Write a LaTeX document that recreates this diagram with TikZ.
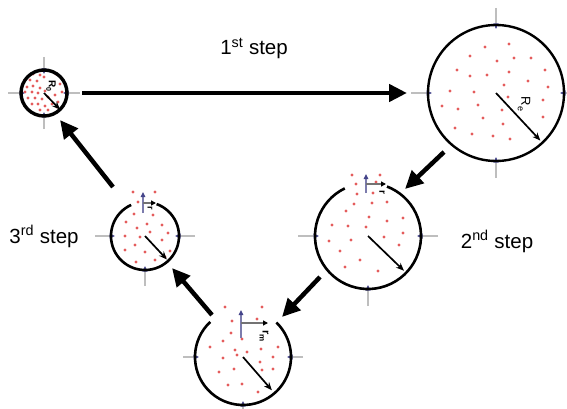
\documentclass[tikz,border=0pt]{standalone}
\usepackage{fontspec}
\setmainfont{Liberation Sans}
\usetikzlibrary{arrows.meta}

\definecolor{dotred}{RGB}{228,92,92}
\definecolor{markblue}{RGB}{68,68,138}
\definecolor{axisgray}{RGB}{190,190,190}

\tikzset{
	ring/.style={draw, line width=2.6pt},
	reddot/.style={fill=dotred},
	axis/.style={draw=axisgray, line width=1.1pt, -{Triangle[length=5.5pt,width=5pt,color=markblue]}},
	uparrow/.style={draw=markblue!70, line width=1.4pt, -{Triangle[length=5pt,width=4.5pt,color=markblue]}},
	bar/.style={draw=black!55, line width=1.4pt, -{Triangle[length=5pt,width=5pt,color=black]}},
	rarrow/.style={draw, line width=1.7pt, -{Stealth[length=8pt,width=6.5pt]}},
	bigarrow/.style={draw, line width=4.5pt, -{Triangle[length=18pt,width=17pt]}},
	steptext/.style={font=\fontsize{20.5}{24}\selectfont, anchor=base},
	rtext/.style={rotate=-90, inner sep=0pt}
}

\begin{document}
\begin{tikzpicture}[x=1pt, y=-1pt]
	\useasboundingbox (0,0) rectangle (567,409);
	
	\coordinate (1) at (44,93);
	\coordinate (2) at (496,93);
	\coordinate (3) at (368,236);
	\coordinate (4) at (145,236);
	\coordinate (5) at (243,357);
	
	\foreach \a in {0,90,180,270} \draw[axis] (1) ++(\a:36) -- ++(\a:-17);
	\foreach \a in {0,90,180,270} \draw[axis] (2) ++(\a:85) -- ++(\a:-21);
	\foreach \a in {0,90,180} \draw[axis] (3) ++(\a:70) -- ++(\a:-21);
	\foreach \a in {0,90,180} \draw[axis] (4) ++(\a:50) -- ++(\a:-20);
	\foreach \a in {0,90,180} \draw[axis] (5) ++(\a:60) -- ++(\a:-16);
	
	\foreach \p in {(33,74),(40,75),(30,80),(37,81),(44,77),(27,87),(33,86),(40,88),(25,92),(32,92),(38,93),(45,91),(28,98),(35,98),(42,99),(48,97),(55,95),(32,104),(38,104),(45,106),(52,104),(58,102),(40,110),(48,110),(57,107),(62,92),(56,74),(60,84)}
		\fill[reddot] \p circle (1.7);
	\foreach \p in {(509,44),(485,47),(470,56),(497,61),(514,58),(531,58),(457,70),(470,76),(487,75),(509,72),(545,70),(504,85),(528,81),(548,87),(450,91),(474,92),(508,97),(543,100),(442,106),(458,109),(478,105),(502,110),(483,118),(543,117),(503,124),(455,128),(472,134),(493,136),(510,139)}
		\fill[reddot] \p circle (1.7);
	\foreach \p in {(352,175),(380,175),(356,184),(376,182),(357,194),(373,193),(387,202),(354,204),(372,203),(346,211),(369,217),(387,221),(403,218),(332,225),(348,226),(366,227),(403,233),(329,241),(351,240),(384,237),(399,245),(340,251),(360,260),(345,267),(378,271)}
		\fill[reddot] \p circle (1.7);
	\foreach \p in {(133,192),(155,192),(138,202),(134,214),(153,215),(126,222),(147,224),(162,225),(137,228),(150,232),(168,233),(125,236),(140,237),(162,240),(125,250),(135,245),(145,252),(170,251),(136,262),(155,260),(165,257)}
		\fill[reddot] \p circle (1.7);
	\foreach \p in {(225,307),(262,307),(232,321),(257,319),(231,333),(223,341),(242,339),(210,347),(235,350),(247,352),(261,349),(278,347),(223,358),(237,355),(260,362),(273,357),(219,372),(234,369),(262,370),(273,369),(228,385),(242,384),(258,392)}
		\fill[reddot] \p circle (1.7);
	
	\draw[ring, line width=3.4pt] (1) circle (23);
	\draw[ring, line width=2.4pt] (2) circle (68);
	\draw[ring] (3) ++(-116:53) arc[start angle=-116, end angle=-429, radius=53];
	\draw[ring] (4) ++(-114:34) arc[start angle=-114, end angle=-430, radius=34];
	\draw[ring] (5) ++(-133:48) arc[start angle=-133, end angle=-406, radius=48];
	
	\draw[rarrow] (1) -- ++(46:23);
	\draw[rarrow] (2) -- ++(47:65);
	\draw[rarrow] (3) -- ++(44:50);
	\draw[rarrow] (4) -- ++(47:32);
	\draw[rarrow] (5) -- ++(49:44);
	
	\draw[uparrow] (3) ++(-2,-43) -- ++(0,-19);
	\draw[uparrow] (4) ++(-2,-23) -- ++(0,-21);
	\draw[uparrow] (5) ++(-2,-19) -- ++(0,-28);
	\draw[bar] (3) ++(-2,-52) -- ++(20,0);
	\draw[bar] (4) ++(-2,-33) -- ++(13,0);
	\draw[bar] (5) ++(-2,-34) -- ++(27,0);
	
	\node[rtext, font=\fontsize{10}{10}\selectfont\bfseries] (r0) at (51,86) {R\raisebox{-2.5pt}{\fontsize{7}{7}\selectfont 0}};
	\node[rtext, font=\fontsize{13}{13}\selectfont] (re) at (524,104) {R\kern0.5pt\raisebox{-3.5pt}{\fontsize{9}{9}\selectfont e}};
	\node[rtext, font=\fontsize{10}{10}\selectfont\bfseries] (r3) at (382,192) {r};
	\node[rtext, font=\fontsize{9}{9}\selectfont\bfseries] (r4) at (150,208) {r};
	\node[rtext, font=\fontsize{11}{11}\selectfont\bfseries] (rm) at (264,336) {r\raisebox{-3pt}{\fontsize{8}{8}\selectfont m}};
	
	\coordinate (s1) at (82,93);
	\coordinate (e1) at (407,93);
	\coordinate (s2) at (444,152);
	\coordinate (e2) at (405,189);
	\coordinate (s3) at (320,277);
	\coordinate (e3) at (282,317);
	\coordinate (s4) at (212,315);
	\coordinate (e4) at (172,268);
	\coordinate (s5) at (113,187);
	\coordinate (e5) at (60,120);
	
	\draw[bigarrow] (s1) -- (e1);
	\draw[bigarrow] (s2) -- (e2);
	\draw[bigarrow] (s3) -- (e3);
	\draw[bigarrow] (s4) -- (e4);
	\draw[bigarrow] (s5) -- (e5);
	
	\node[steptext] (t1) at (254,55) {1\textsuperscript{st} step};
	\node[steptext] (t2) at (497,248) {2\textsuperscript{nd} step};
	\node[steptext] (t3) at (44,243) {3\textsuperscript{rd} step};
\end{tikzpicture}
\end{document}
